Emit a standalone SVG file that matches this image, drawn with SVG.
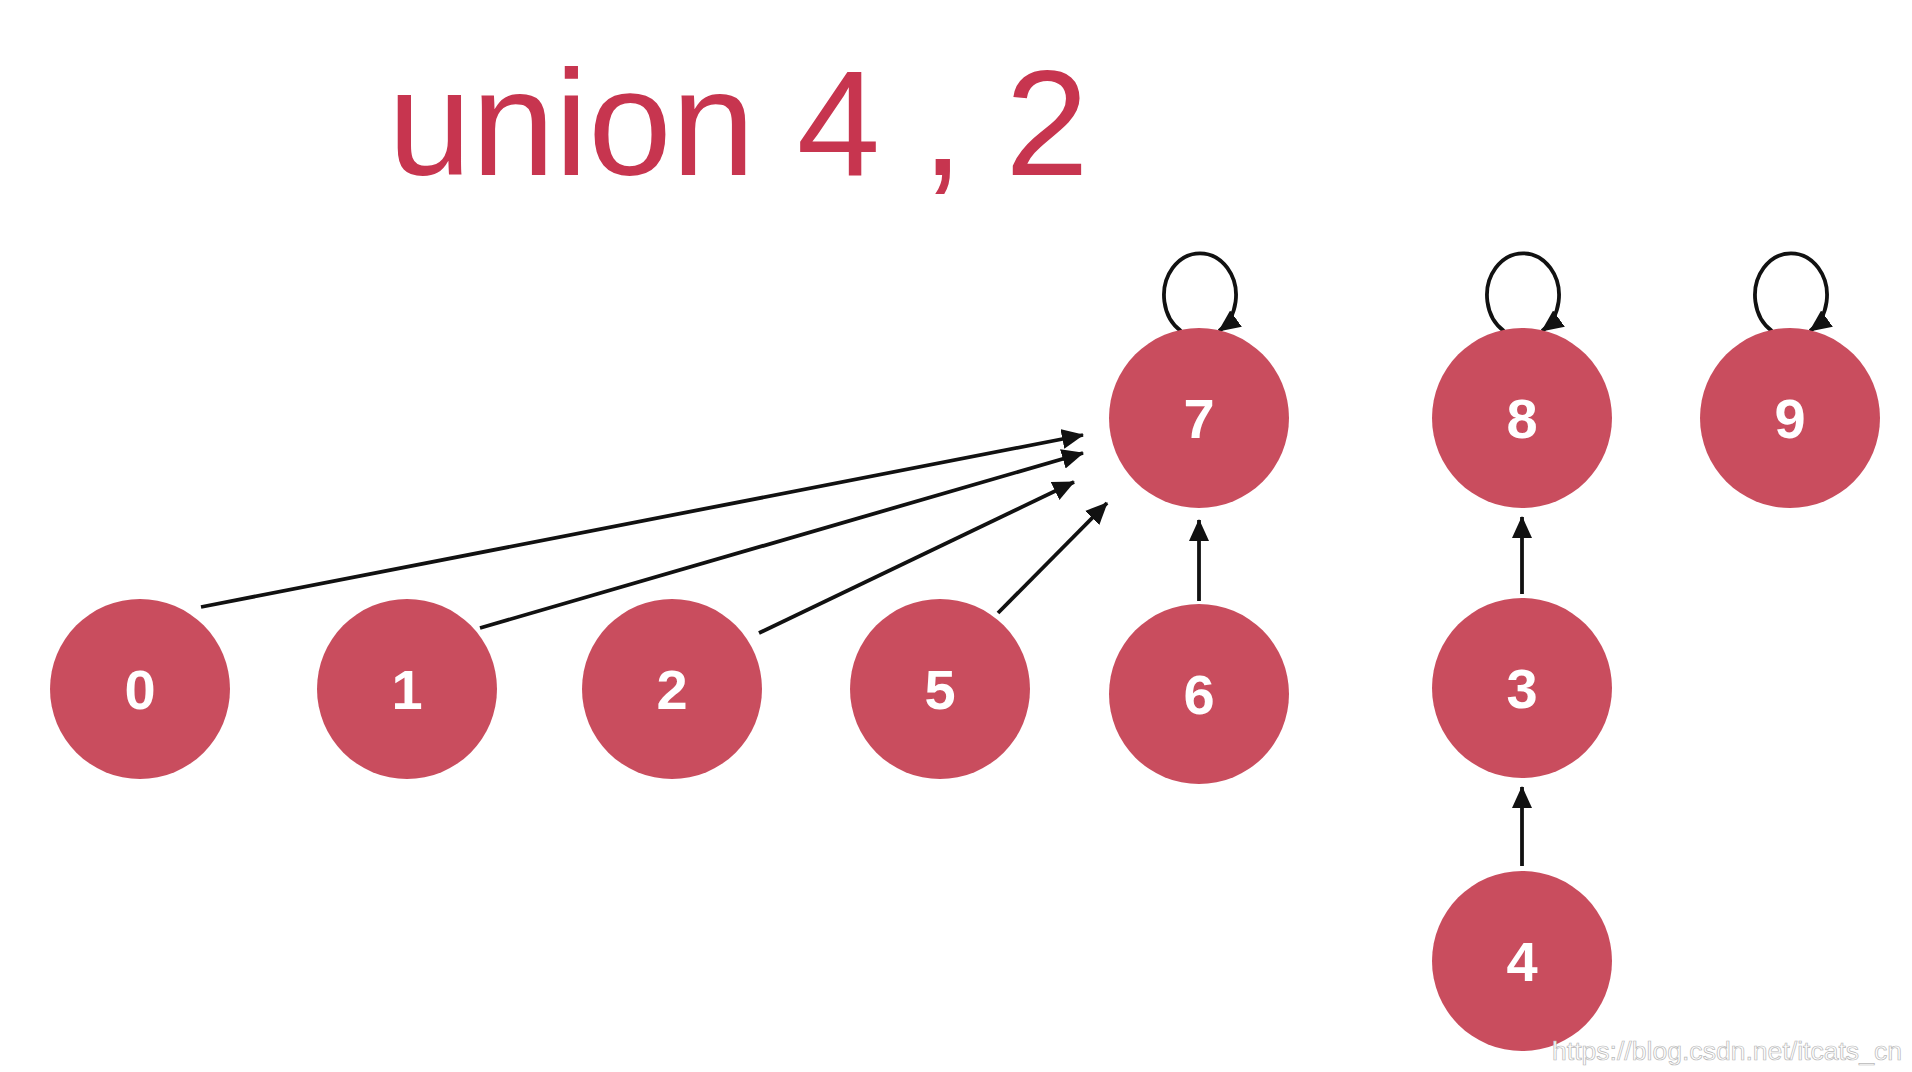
<svg xmlns="http://www.w3.org/2000/svg" width="1912" height="1072" viewBox="0 0 1912 1072">
<style>
.node circle{fill:#C94D5E}
.node text{fill:#fff;font-family:"Liberation Sans",Arial,sans-serif;font-weight:bold;font-size:56px;text-anchor:middle}
.edge{stroke:#111;stroke-width:3.8;fill:none;marker-end:url(#ah)}
.title{fill:#C7354F;font-family:"Liberation Sans",Arial,sans-serif;font-size:150px}
.wm{fill:#fff;stroke:#b8b8b8;stroke-width:0.7;font-family:"Liberation Sans",Arial,sans-serif;font-size:26px}
</style>
<defs>
<marker id="ah" markerUnits="userSpaceOnUse" markerWidth="24" markerHeight="22" refX="21" refY="10" orient="auto">
<path d="M0,0 L22,10 L0,20 Z" fill="#111"/>
</marker>
</defs>
<rect width="1912" height="1072" fill="#fff"/>
<text class="title" x="388" y="175">union 4 , 2</text>
<g id="connectors">
<line class="edge" x1="201" y1="607" x2="1083" y2="435"/>
<line class="edge" x1="480" y1="628" x2="1083" y2="453"/>
<line class="edge" x1="759" y1="633" x2="1074" y2="482"/>
<line class="edge" x1="998" y1="613" x2="1107" y2="503"/>
<line class="edge" x1="1199" y1="601" x2="1199" y2="520"/>
<line class="edge" x1="1522" y1="594" x2="1522" y2="517"/>
<line class="edge" x1="1522" y1="866" x2="1522" y2="787"/>
<path class="edge" d="M1181,331 A36,42 0 1 1 1219,331"/>
<path class="edge" d="M1504,331 A36,42 0 1 1 1542,331"/>
<path class="edge" d="M1772,331 A36,42 0 1 1 1810,331"/>
</g>
<g id="node-0" class="node"><circle cx="140" cy="689" r="90"/><text x="140" y="709">0</text></g>
<g id="node-1" class="node"><circle cx="407" cy="689" r="90"/><text x="407" y="709">1</text></g>
<g id="node-2" class="node"><circle cx="672" cy="689" r="90"/><text x="672" y="709">2</text></g>
<g id="node-5" class="node"><circle cx="940" cy="689" r="90"/><text x="940" y="709">5</text></g>
<g id="node-6" class="node"><circle cx="1199" cy="694" r="90"/><text x="1199" y="714">6</text></g>
<g id="node-7" class="node"><circle cx="1199" cy="418" r="90"/><text x="1199" y="438">7</text></g>
<g id="node-8" class="node"><circle cx="1522" cy="418" r="90"/><text x="1522" y="438">8</text></g>
<g id="node-9" class="node"><circle cx="1790" cy="418" r="90"/><text x="1790" y="438">9</text></g>
<g id="node-3" class="node"><circle cx="1522" cy="688" r="90"/><text x="1522" y="708">3</text></g>
<g id="node-4" class="node"><circle cx="1522" cy="961" r="90"/><text x="1522" y="981">4</text></g>
<text class="wm" x="1552" y="1060" textLength="350" lengthAdjust="spacingAndGlyphs">https://blog.csdn.net/itcats_cn</text>
</svg>
